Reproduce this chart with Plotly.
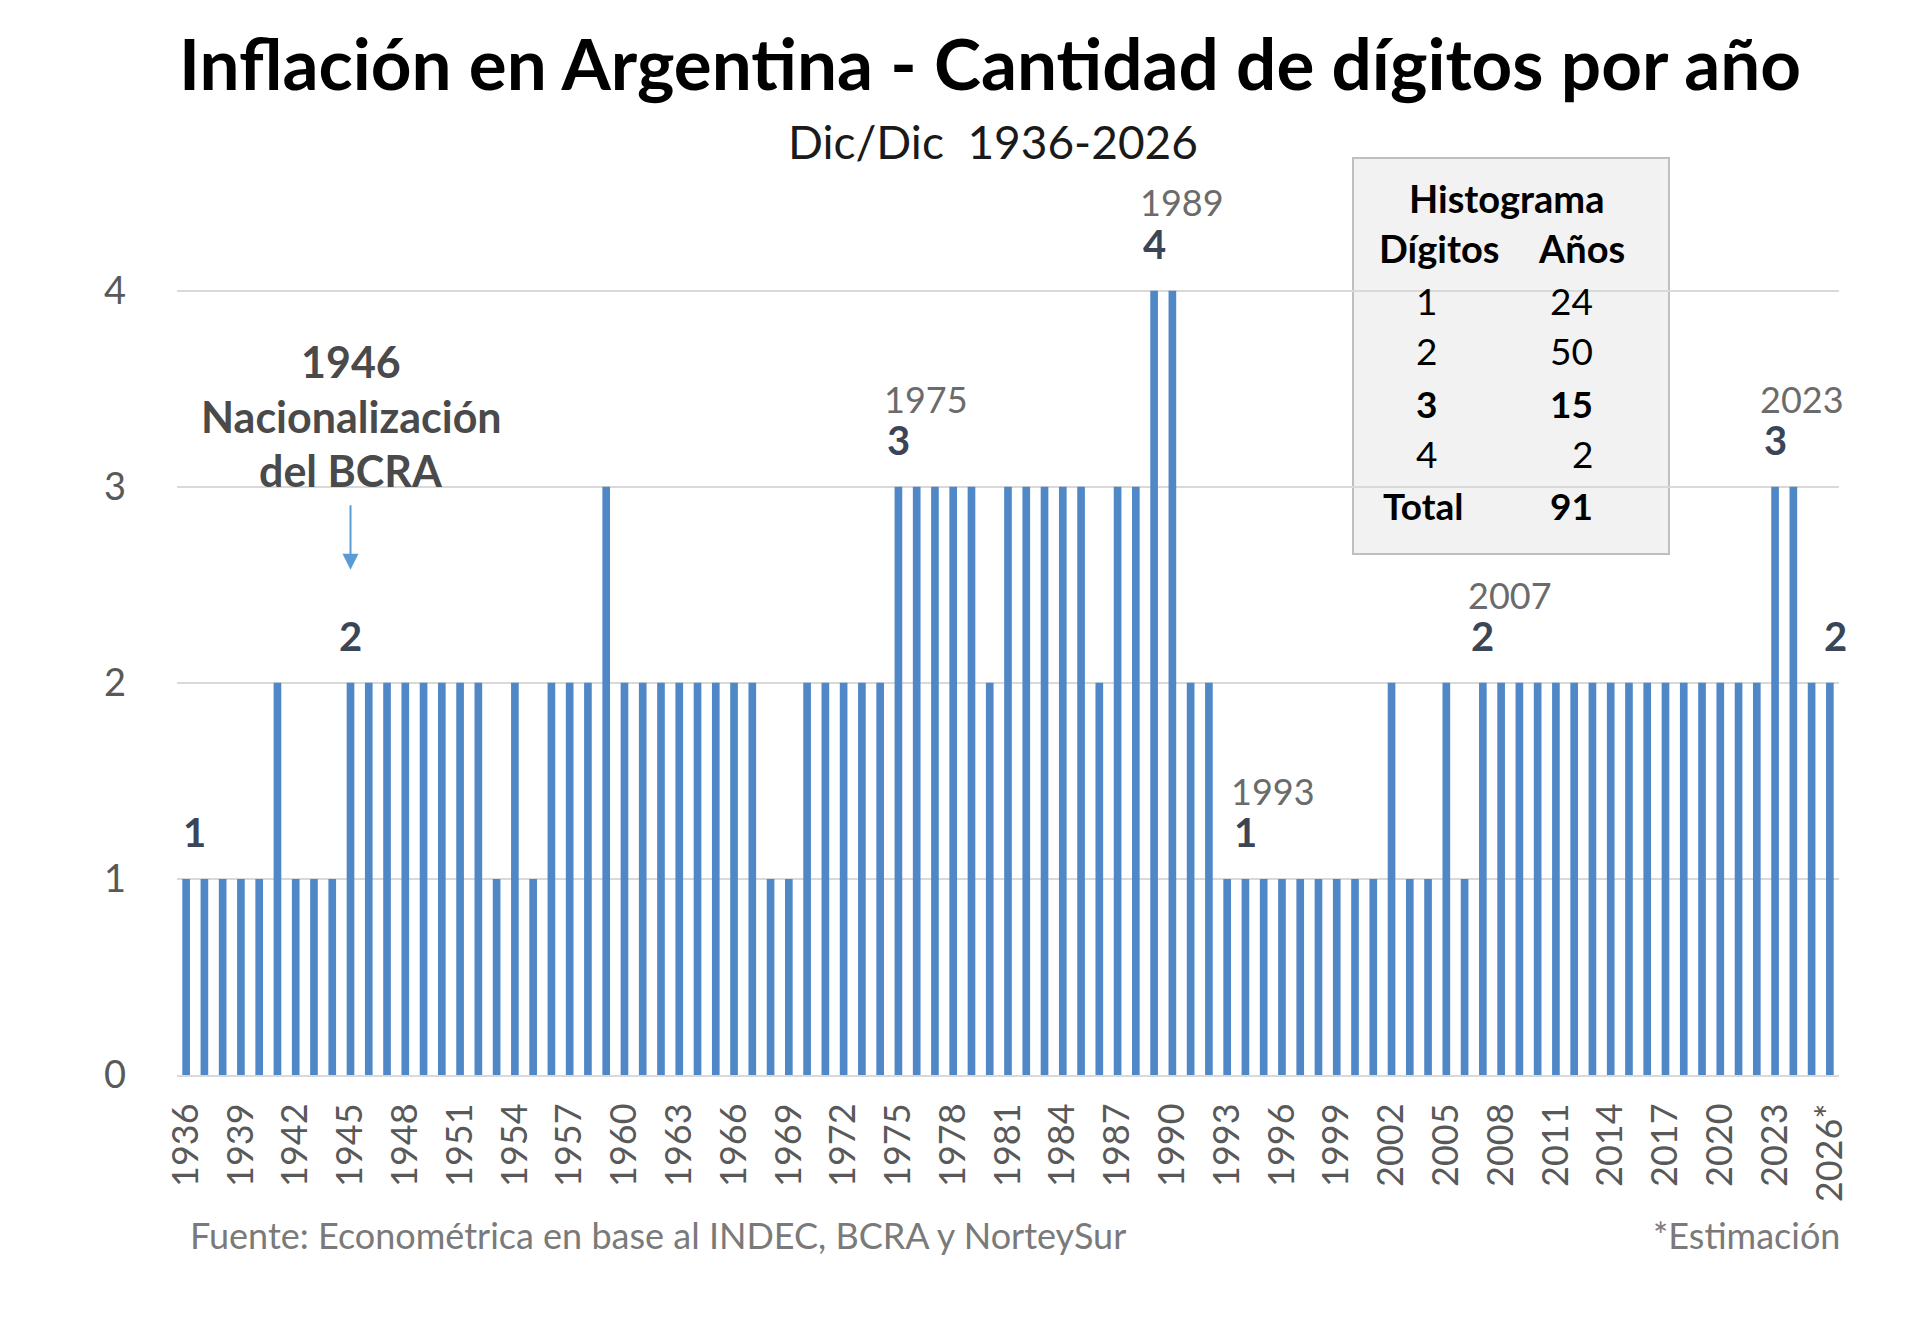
import plotly.graph_objects as go

# Cantidad de digitos de la inflacion anual (dic/dic) por año
years = list(range(1936, 2027))
digits = [
    1, 1, 1, 1, 1, 2, 1, 1, 1, 2,   # 1936-1945
    2, 2, 2, 2, 2, 2, 2, 1, 2, 1,   # 1946-1955
    2, 2, 2, 3, 2, 2, 2, 2, 2, 2,   # 1956-1965
    2, 2, 1, 1, 2, 2, 2, 2, 2, 3,   # 1966-1975
    3, 3, 3, 3, 2, 3, 3, 3, 3, 3,   # 1976-1985
    2, 3, 3, 4, 4, 2, 2, 1, 1, 1,   # 1986-1995
    1, 1, 1, 1, 1, 1, 2, 1, 1, 2,   # 1996-2005
    1, 2, 2, 2, 2, 2, 2, 2, 2, 2,   # 2006-2015
    2, 2, 2, 2, 2, 2, 2, 3, 3, 2,   # 2016-2025
    2,                              # 2026*
]

tick_years = [1936, 1939, 1942, 1945, 1948, 1951, 1954, 1957, 1960, 1963,
              1966, 1969, 1972, 1975, 1978, 1981, 1984, 1987, 1990, 1993,
              1996, 1999, 2002, 2005, 2008, 2011, 2014, 2017, 2020, 2023, 2026]
tick_text = ["1936", "1939", "1942", "1945", "1948", "1951", "1954", "1957",
             "1960", "1963", "1966", "1969", "1972", "1975", "1978", "1981",
             "1984", "1987", "1990", "1993", "1996", "1999", "2002", "2005",
             "2008", "2011", "2014", "2017", "2020", "2023", "2026*"]

# años destacados con la etiqueta del año encima
callout_years = [1975, 1989, 1993, 2007, 2023]
# años destacados solo con el numero
plain_years = [1936, 1945, 2026]

# histograma
hist_digits = ["1", "2", "3", "4"]
hist_counts = [24, 50, 15, 2]
hist_total = 91

FONT = "Lato"
BLUE = "#5088C7"

# figure geometry (pixels)
FW, FH = 1920, 1318
L, R, T, B = 169, 89, 165, 251
PW, PH = FW - L - R, FH - T - B


def px(x):
    return (x - L) / PW


def py(y):
    return 1 - (y - T) / PH


def note(x, y, text, size, color, xanchor="center", ref="paper"):
    if ref == "paper":
        x, y = px(x), py(y)
    return dict(x=x, y=y, xref=ref if ref == "paper" else "x",
                yref=ref if ref == "paper" else "y",
                xanchor=xanchor, yanchor="middle", text=text, showarrow=False,
                font=dict(family=FONT, size=size, color=color))


bars = go.Bar(x=years, y=digits, width=0.42,
              marker=dict(color=BLUE, line=dict(width=0)))

fig = go.Figure(data=[bars])

ann = []

# titulo y subtitulo
ann.append(note(982, 55, "<b>Inflación en Argentina - Cantidad de dígitos por año</b>",
                71, "#000000"))
ann.append(note(985, 133, "Dic/Dic  1936-2026", 46, "#1a1a1a"))

# numeros sobre las barras
num_shift = {1936: 0.45, 1945: 0.0, 2026: 0.33, 1975: 0.0, 1989: 0.0,
             1993: 1.0, 2007: 0.0, 2023: 0.0}
for yr in plain_years + callout_years:
    v = digits[years.index(yr)]
    ann.append(note(yr + num_shift[yr], v + 0.24, "<b>%d</b>" % v, 40,
                    "#3A4557", ref="data"))
for yr in callout_years:
    v = digits[years.index(yr)]
    ann.append(note(yr + num_shift[yr] + 1.5, v + 0.45, str(yr), 36,
                    "#6b6b6b", ref="data"))

# nota 1946
for txt, yy in [("1946", 353), ("Nacionalización", 408), ("del BCRA", 463)]:
    ann.append(note(343, yy, "<b>%s</b>" % txt, 43, "#4a4a4a"))
ann.append(dict(x=1945, y=(1067 - 562) / 196, xref="x", yref="y", text="",
                showarrow=True, ax=0, ay=-66, arrowhead=2, arrowsize=1.6,
                arrowwidth=2, arrowcolor="#5B9BD5"))

# tabla del histograma
ann.append(note(1498, 190, "<b>Histograma</b>", 38, "#000000"))
ann.append(note(1431, 240, "<b>Dígitos</b>", 38, "#000000"))
ann.append(note(1573, 240, "<b>Años</b>", 38, "#000000"))
row_y = [292, 343, 395, 445]
for d, c, yy in zip(hist_digits, hist_counts, row_y):
    fmt = "<b>%s</b>" if d == "3" else "%s"
    ann.append(note(1418, yy, fmt % d, 37, "#000000"))
    ann.append(note(1587, yy, fmt % c, 37, "#000000", xanchor="right"))
ann.append(note(1415, 498, "<b>Total</b>", 37, "#000000"))
ann.append(note(1587, 498, "<b>%d</b>" % hist_total, 37, "#000000",
                xanchor="right"))

# pie
ann.append(note(180, 1227, "Fuente: Econométrica en base al INDEC, BCRA y NorteySur",
                36, "#7a7a7a", xanchor="left"))
ann.append(note(1834, 1227, "*Estimación", 36, "#7a7a7a", xanchor="right"))

fig.update_layout(
    width=FW, height=FH,
    margin=dict(l=L, r=R, t=T, b=B, pad=0),
    paper_bgcolor="white", plot_bgcolor="white",
    showlegend=False,
    annotations=ann,
    shapes=[dict(type="rect", xref="paper", yref="paper",
                 x0=px(1345), x1=px(1661), y0=py(546), y1=py(150),
                 fillcolor="#F2F2F2", line=dict(color="#BFBFBF", width=2),
                 layer="below")],
    xaxis=dict(range=[1935.5, 2026.5], tickmode="array", tickvals=tick_years,
               ticktext=tick_text, tickangle=-90, ticks="",
               ticklabelstandoff=12, showgrid=False, zeroline=False,
               showline=True, linecolor="#D9D9D9", linewidth=2,
               tickfont=dict(family=FONT, size=36, color="#595959")),
    yaxis=dict(range=[0, 4.6], tickmode="array", tickvals=[0, 1, 2, 3, 4],
               ticks="", showgrid=True, gridcolor="#D9D9D9", gridwidth=2,
               zeroline=False, ticklabelstandoff=50,
               tickfont=dict(family=FONT, size=38, color="#595959")),
)

fig.write_html("out.html")
